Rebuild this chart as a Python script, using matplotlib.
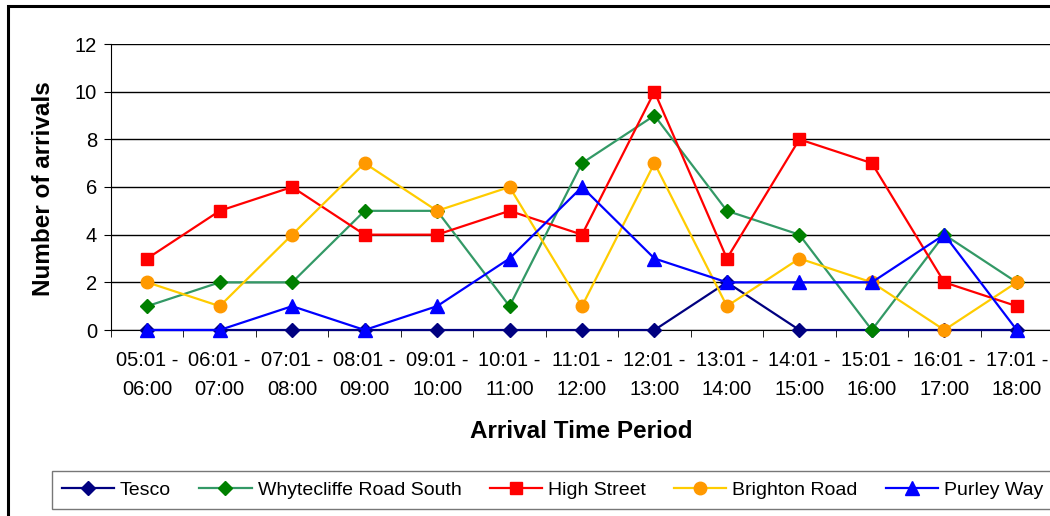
import matplotlib
matplotlib.use('Agg')
import matplotlib.pyplot as plt
from matplotlib.patches import Rectangle
import numpy as np

plt.rcParams['font.family'] = ['Liberation Sans', 'DejaVu Sans']

# periodos de chegada
periodos = ['05:01 -\n06:00', '06:01 -\n07:00', '07:01 -\n08:00', '08:01 -\n09:00',
            '09:01 -\n10:00', '10:01 -\n11:00', '11:01 -\n12:00', '12:01 -\n13:00',
            '13:01 -\n14:00', '14:01 -\n15:00', '15:01 -\n16:00', '16:01 -\n17:00',
            '17:01 -\n18:00']

tesco = [0, 0, 0, 0, 0, 0, 0, 0, 2, 0, 0, 0, 0]
whytecliffe = [1, 2, 2, 5, 5, 1, 7, 9, 5, 4, 0, 4, 2]
high_street = [3, 5, 6, 4, 4, 5, 4, 10, 3, 8, 7, 2, 1]
brighton = [2, 1, 4, 7, 5, 6, 1, 7, 1, 3, 2, 0, 2]
purley = [0, 0, 1, 0, 1, 3, 6, 3, 2, 2, 2, 4, 0]

series = [
    ('Tesco', tesco, '#000080', '#000080', 'D', 7.5),
    ('Whytecliffe Road South', whytecliffe, '#339966', '#008000', 'D', 7.5),
    ('High Street', high_street, '#FF0000', '#FF0000', 's', 9),
    ('Brighton Road', brighton, '#FFCC00', '#FF9900', 'o', 9),
    ('Purley Way', purley, '#0000FF', '#0000FF', '^', 10),
]

fig = plt.figure(figsize=(10.5, 5.16), dpi=100)
ax = fig.add_axes([111 / 1050, 1 - 330 / 516, (1053 - 111) / 1050, (330 - 44) / 516])

x = np.arange(len(periodos))
for nome, valores, cor_linha, cor_marca, marca, tam in series:
    ax.plot(x, valores, color=cor_linha, lw=1.6, marker=marca, markersize=tam,
            markerfacecolor=cor_marca, markeredgecolor=cor_marca, label=nome,
            clip_on=False, zorder=3)

ax.set_xlim(-0.5, len(periodos) - 0.5)
ax.set_ylim(0, 12)
ax.set_yticks(range(0, 13, 2))
ax.yaxis.grid(True, color='black', lw=1)
ax.set_axisbelow(True)

ax.set_xticks(x)
ax.set_xticklabels(periodos, fontsize=14.5, linespacing=1.65)
ax.set_xticks(np.arange(-0.5, len(periodos)), minor=True)
ax.tick_params(axis='x', which='major', length=0, pad=15)
ax.tick_params(axis='x', which='minor', length=5, direction='out', color='black')
ax.tick_params(axis='y', length=5, direction='out', labelsize=14.5, pad=5)

for lado in ['top', 'right']:
    ax.spines[lado].set_visible(False)
ax.spines['left'].set_color('black')
ax.spines['bottom'].set_color('black')

ax.set_ylabel('Number of arrivals', fontsize=17.5, fontweight='bold')
ax.yaxis.set_label_coords(-0.0595, 0.495)
ax.set_xlabel('Arrival Time Period', fontsize=17.5, fontweight='bold')
ax.xaxis.set_label_coords(0.499, -0.313)

fig.legend(loc='center', bbox_to_anchor=((56 + 1049) / 2 / 1050, 1 - 490 / 516),
           ncol=5, fontsize=14, frameon=True, fancybox=False, edgecolor='#555555',
           handlelength=2.7, columnspacing=1.45, handletextpad=0.3, borderpad=0.5)

# moldura externa do grafico
fig.patches.append(Rectangle((8 / 1050, -0.1), 1.2, 1.1 - 6 / 516, transform=fig.transFigure,
                             fill=False, edgecolor='black', lw=2.2, clip_on=False))

fig.savefig('out.png', dpi=100)
